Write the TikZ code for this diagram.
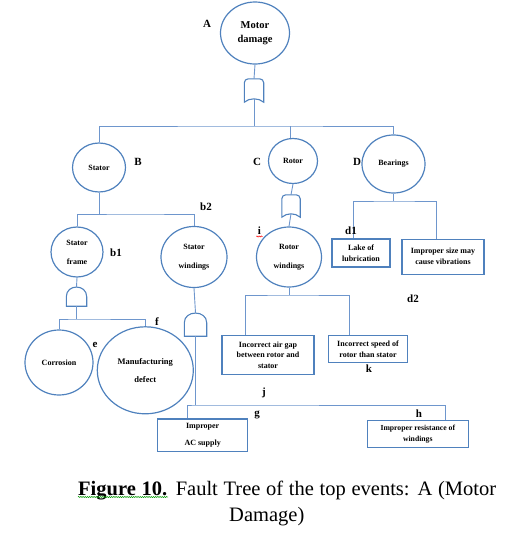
\documentclass[tikz,border=0pt]{standalone}
\usepackage{fontspec}
\setmainfont{Liberation Serif}
\usetikzlibrary{shapes.geometric,calc,decorations.pathmorphing}
\definecolor{ftblue}{RGB}{79,129,189}
\definecolor{lineblue}{RGB}{110,150,205}
\begin{document}
\begin{tikzpicture}[x=1pt,y=-1pt,
  ev/.style={ellipse, draw=ftblue, line width=1.2pt, inner sep=0pt, align=center,
             font=\fontsize{8}{10}\selectfont\bfseries},
  box/.style={rectangle, draw=ftblue, line width=1.3pt, inner sep=0pt, align=center,
             font=\fontsize{8}{11}\selectfont\bfseries},
  gate/.style={rectangle, inner sep=0pt, draw=none},
  gateline/.style={draw=ftblue, line width=1.1pt},
  conn/.style={draw=lineblue, line width=0.9pt},
  lab/.style={inner sep=0pt, font=\fontsize{11}{13}\selectfont\bfseries},
  squig/.style={decorate, decoration={snake, amplitude=0.6pt, segment length=2.2pt}, line width=0.5pt}
]
\useasboundingbox (0,0) rectangle (528,533);

% events
\node[ev, minimum width=69pt, minimum height=62pt, font=\fontsize{10.5}{14}\selectfont\bfseries] (A) at (255,33) {Motor\\damage};
\node[ev, minimum width=53pt, minimum height=49pt] (stator) at (99,167.5) {Stator};
\node[ev, minimum width=49pt, minimum height=45pt] (rotor) at (293,161) {Rotor};
\node[ev, minimum width=63pt, minimum height=58pt] (bearings) at (393.5,164) {Bearings};
\node[ev, minimum width=52pt, minimum height=50pt, font=\fontsize{8}{19}\selectfont\bfseries] (sframe) at (77,252) {Stator\\frame};
\node[ev, minimum width=66pt, minimum height=61pt, font=\fontsize{8}{19}\selectfont\bfseries] (swind) at (194,257) {Stator\\windings};
\node[ev, minimum width=65pt, minimum height=60pt, font=\fontsize{8}{19}\selectfont\bfseries] (rwind) at (289,257) {Rotor\\windings};
\node[ev, minimum width=68pt, minimum height=65pt] (corr) at (59,362.5) {Corrosion};
\node[ev, minimum width=96pt, minimum height=87pt, font=\fontsize{8.5}{17.7}\selectfont\bfseries] (manuf) at (145.3,370.3) {Manufacturing\\defect};

% boxes
\node[box, minimum width=58pt, minimum height=28pt] (lake) at (361,253) {Lake of\\lubrication};
\node[box, minimum width=82pt, minimum height=35pt] (impsize) at (443,256.7) {Improper size may\\cause vibrations};
\node[box, minimum width=92pt, minimum height=38.6pt, font=\fontsize{8}{10.7}\selectfont\bfseries] (airgap) at (268,355) {Incorrect air gap\\between rotor and\\stator};
\node[box, minimum width=79pt, minimum height=26.6pt, font=\fontsize{8}{10.7}\selectfont\bfseries] (speed) at (368,349) {Incorrect speed of\\rotor than stator};
\node[box, minimum width=90pt, minimum height=32.7pt, font=\fontsize{8}{16.7}\selectfont\bfseries] (acs) at (202.7,435.3) {Improper\\AC supply};
\node[box, minimum width=101pt, minimum height=27pt, font=\fontsize{7.7}{10.7}\selectfont\bfseries] (res) at (417.8,434.2) {Improper resistance of\\windings};

% gates
\node[gate, minimum width=19pt, minimum height=23pt] (gA) at (254,90.5) {};
\node[gate, minimum width=18pt, minimum height=22pt] (gR) at (291,206) {};
\node[gate, minimum width=20pt, minimum height=19pt] (gF) at (76.5,296.5) {};
\node[gate, minimum width=22pt, minimum height=23pt] (gW) at (195.5,324.5) {};

% OR gates
\foreach \g in {gA,gR}{
  \draw[gateline] (\g.south west) [rounded corners=4pt] -- (\g.north west) -- (\g.north east)
     [sharp corners] -- (\g.south east)
     .. controls ($(\g.south east)+(-5,-4.5)$) and ($(\g.south west)+(5,-4.5)$) .. (\g.south west) -- cycle;
}
% AND gates
\foreach \g in {gF,gW}{
  \draw[gateline] (\g.south west) -- ($(\g.north west)+(0,10)$)
     .. controls ($(\g.north west)+(0,-3)$) and ($(\g.north east)+(0,-3)$) .. ($(\g.north east)+(0,10)$)
     -- (\g.south east) -- cycle;
}

% connectors
\coordinate (busA) at (254,126);
\draw[conn] (A.south) -- (gA.north);
\draw[conn] ($(gA.south)+(0,-3.4)$) -- (busA);
\draw[conn] (stator.north) |- (busA) -| (bearings.north);
\draw[conn] ([xshift=-3pt]rotor.north) -- ([xshift=-3pt]rotor.north |- busA);

\coordinate (busS) at (135,214);
\draw[conn] (stator.south) -- (stator.south |- busS);
\draw[conn] (sframe.north) |- (busS) -| (swind.north);

\draw[conn] (rotor.south) -- (gR.north);
\draw[conn] ($(gR.south)+(0,-3.4)$) -- (rwind.north);

\coordinate (busB) at (393.5,201);
\draw[conn] (bearings.south) -- (busB);
\draw[conn] ([xshift=-8pt]lake.north) |- (busB) -| ([xshift=-7pt]impsize.north);

\coordinate (busR) at (289,295);
\draw[conn] (rwind.south) -- (busR);
\draw[conn] ([xshift=-23pt]airgap.north) |- (busR) -| ([xshift=-19pt]speed.north);

\coordinate (busF) at (76.5,319);
\draw[conn] (sframe.south) -- (gF.north);
\draw[conn] (gF.south) -- (busF);
\draw[conn] (corr.north) |- (busF) -| (manuf.north);

\coordinate (busW) at (195.5,405);
\draw[conn] (swind.south) -- (gW.north);
\draw[conn] (gW.south) -- (busW);
\draw[conn] ([xshift=-15pt]acs.north) |- (busW) -| ([xshift=28pt]res.north);

% labels
\node[lab] (lA) at (207,24) {A};
\node[lab] (lB) at (138,162) {B};
\node[lab] (lC) at (257,162) {C};
\node[lab] (lD) at (357,162) {D};
\node[lab] (lb2) at (206,207) {b2};
\node[lab] (lb1) at (116,253) {b1};
\node[lab] (li) at (259.5,230.5) {i};
\node[lab] (ld1) at (351,231) {d1};
\node[lab] (ld2) at (413,299) {d2};
\node[lab] (le) at (95,345) {e};
\node[lab] (lf) at (157,322) {f};
\node[lab] (lk) at (369,369) {k};
\node[lab] (lj) at (264,393) {j};
\node[lab] (lg) at (257,415) {g};
\node[lab] (lh) at (419,414) {h};
\draw[squig, red] ($(li.south west)+(-1.5,2)$) -- ($(li.south east)+(1.5,2)$);

% caption
\node[anchor=base west, inner sep=0pt, font=\fontsize{20.5}{24}\selectfont] (cap1) at (78,495) {\makebox[418pt][s]{\textbf{Figure 10.} Fault Tree of the top events: A (Motor}};
\node[anchor=base west, inner sep=0pt, font=\fontsize{20.5}{24}\selectfont] (cap2) at (229,521.7) {Damage)};
\draw[squig, green!60!black] ($(cap1.base west)+(0,2)$) -- ++(90,0);
\end{tikzpicture}
\end{document}
